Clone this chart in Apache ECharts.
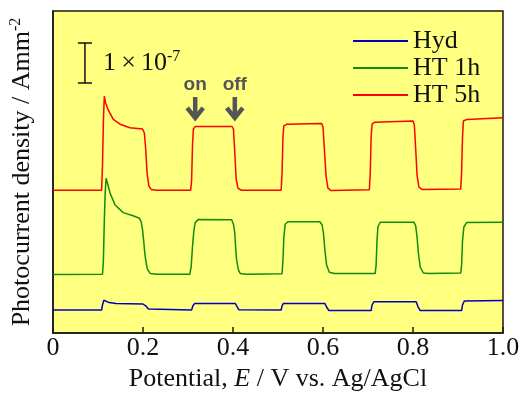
<!DOCTYPE html>
<html><head><meta charset="utf-8">
<script src="https://cdn.jsdelivr.net/npm/echarts@6/dist/echarts.min.js"></script>
<style>html,body{margin:0;padding:0;background:#fff}#c{width:522px;height:397px}</style>
</head><body><div id="c"></div>
<script>
// x tick labels
const xTickValues = [0, 0.2, 0.4, 0.6, 0.8, 1.0];
const xTickLabels = ['0', '0.2', '0.4', '0.6', '0.8', '1.0'];
const seriesNames = ['Hyd', 'HT 1h', 'HT 5h'];
// values in units of 1e-7 A/mm^2 (offset traces)
const hydData = [[0,0.575],[0.108,0.575],[0.110,0.7],[0.113,0.82],[0.117,0.8],[0.125,0.76],[0.14,0.74],[0.2,0.725],[0.206,0.68],[0.212,0.6],[0.216,0.575],[0.308,0.575],[0.311,0.68],[0.315,0.74],[0.405,0.74],[0.409,0.66],[0.413,0.58],[0.507,0.575],[0.509,0.68],[0.512,0.74],[0.604,0.74],[0.608,0.65],[0.613,0.56],[0.707,0.56],[0.709,0.7],[0.713,0.78],[0.807,0.78],[0.811,0.66],[0.816,0.56],[0.908,0.56],[0.91,0.7],[0.914,0.8],[1.0,0.81]];
const ht1Data = [[0,1.46],[0.11,1.47],[0.112,1.8],[0.114,2.8],[0.116,3.5],[0.118,3.87],[0.121,3.75],[0.127,3.49],[0.138,3.2],[0.156,3.01],[0.178,2.93],[0.192,2.87],[0.196,2.78],[0.199,2.58],[0.202,2.25],[0.204,1.99],[0.207,1.75],[0.21,1.59],[0.216,1.49],[0.23,1.47],[0.304,1.47],[0.307,1.65],[0.31,2.16],[0.313,2.55],[0.316,2.76],[0.323,2.84],[0.397,2.83],[0.401,2.72],[0.404,2.5],[0.406,2.1],[0.408,1.83],[0.412,1.58],[0.416,1.49],[0.43,1.47],[0.509,1.48],[0.511,1.8],[0.513,2.4],[0.516,2.72],[0.522,2.78],[0.593,2.78],[0.598,2.7],[0.601,2.5],[0.604,2.1],[0.608,1.7],[0.614,1.52],[0.625,1.49],[0.716,1.49],[0.718,1.7],[0.72,2.3],[0.722,2.65],[0.727,2.77],[0.802,2.77],[0.806,2.68],[0.809,2.4],[0.812,2.0],[0.816,1.65],[0.823,1.5],[0.835,1.49],[0.906,1.5],[0.908,1.7],[0.91,2.3],[0.913,2.65],[0.919,2.76],[1.0,2.77]];
const ht5Data = [[0,3.57],[0.108,3.57],[0.110,4.2],[0.112,5.3],[0.114,5.92],[0.117,5.75],[0.123,5.57],[0.134,5.34],[0.149,5.22],[0.171,5.13],[0.199,5.1],[0.203,5.0],[0.206,4.6],[0.209,4.0],[0.213,3.68],[0.218,3.59],[0.23,3.57],[0.306,3.57],[0.308,3.8],[0.310,4.7],[0.312,5.1],[0.316,5.16],[0.398,5.16],[0.401,5.1],[0.404,4.5],[0.407,3.85],[0.411,3.62],[0.418,3.57],[0.507,3.57],[0.509,4.0],[0.511,4.9],[0.513,5.18],[0.52,5.22],[0.597,5.24],[0.600,5.15],[0.603,4.6],[0.607,3.9],[0.611,3.62],[0.618,3.56],[0.703,3.58],[0.705,4.0],[0.707,4.9],[0.709,5.22],[0.715,5.27],[0.8,5.3],[0.803,5.2],[0.806,4.6],[0.809,3.95],[0.813,3.65],[0.82,3.59],[0.906,3.6],[0.908,4.0],[0.910,4.9],[0.912,5.3],[0.92,5.34],[1.0,5.38]];
// annotations
const scaleBar = [[0.071, 6.25, 7.25]]; // x, y bottom, y top (1e-7 span)
const arrows = [[0.316, 6.2, 5.9, 5.33, 'on'], [0.404, 6.2, 5.9, 5.33, 'off']]; // x, label y, shaft top, tip, text

const serif = '"Liberation Serif", "Times New Roman", serif';
const chart = echarts.init(document.getElementById('c'), null, {renderer: 'canvas'});
chart.setOption({
  animation: false,
  backgroundColor: '#ffffff',
  grid: {left: 53, top: 11, right: 19, bottom: 64, containLabel: false, outerBoundsMode: 'none', show: true, backgroundColor: '#ffff80', borderColor: '#1a1a1a', borderWidth: 1.5},
  legend: {
    data: seriesNames, orient: 'vertical', left: 348, top: 23, icon: 'rect', itemWidth: 55, itemHeight: 2, itemGap: 1,
    textStyle: {fontFamily: serif, fontSize: 26, color: '#111'}
  },
  xAxis: {
    type: 'value', min: 0, max: 1, interval: 0.2,
    axisLine: {show: true, lineStyle: {color: '#1a1a1a', width: 1.5}},
    axisTick: {show: true, inside: true, length: 6, lineStyle: {color: '#1a1a1a', width: 1.5}},
    splitLine: {show: false},
    axisLabel: {margin: 2, fontFamily: serif, fontSize: 26, color: '#111', hideOverlap: false,
      formatter: v => { const i = xTickValues.findIndex(t => Math.abs(t - v) < 1e-9); return i >= 0 ? xTickLabels[i] : ''; }},
    name: '{t|Potential, }{i|E}{t| / V vs. Ag/AgCl}', nameLocation: 'middle', nameGap: 28,
    nameTextStyle: {rich: {t: {fontFamily: serif, fontSize: 26, color: '#111'}, i: {fontFamily: serif, fontSize: 26, fontStyle: 'italic', color: '#111'}}}
  },
  yAxis: {
    type: 'value', min: 0, max: 8.05,
    axisLine: {show: true, lineStyle: {color: '#1a1a1a', width: 1.5}},
    axisTick: {show: false}, axisLabel: {show: false}, splitLine: {show: false},
    name: '{t|Photocurrent density / Amm}{s|-2}', nameLocation: 'middle', nameGap: 10, nameRotate: 90,
    nameTextStyle: {rich: {t: {fontFamily: serif, fontSize: 26, color: '#111', height: 30}, s: {fontFamily: serif, fontSize: 16, color: '#111', verticalAlign: 'top', height: 30, padding: [0,0,12,0]}}}
  },
  series: [
    {name: 'Hyd', type: 'line', data: hydData, showSymbol: false, symbol: 'none', lineStyle: {color: '#0000c0', width: 1.5}, itemStyle: {color: '#0000c0'}},
    {name: 'HT 1h', type: 'line', data: ht1Data, showSymbol: false, symbol: 'none', lineStyle: {color: '#108a10', width: 1.5}, itemStyle: {color: '#108a10'}},
    {name: 'HT 5h', type: 'line', data: ht5Data, showSymbol: false, symbol: 'none', lineStyle: {color: '#ff0000', width: 1.5}, itemStyle: {color: '#ff0000'}},
    {
      type: 'custom', data: scaleBar, silent: true,
      renderItem: (params, api) => {
        const b = api.coord([api.value(0), api.value(1)]);
        const t = api.coord([api.value(0), api.value(2)]);
        const cap = 7;
        const ls = {stroke: '#111', lineWidth: 1.5};
        return {type: 'group', children: [
          {type: 'line', shape: {x1: b[0], y1: b[1], x2: t[0], y2: t[1]}, style: ls},
          {type: 'line', shape: {x1: b[0]-cap, y1: b[1], x2: b[0]+cap, y2: b[1]}, style: ls},
          {type: 'line', shape: {x1: t[0]-cap, y1: t[1], x2: t[0]+cap, y2: t[1]}, style: ls},
          {type: 'text', x: b[0] + 18, y: (b[1] + t[1]) / 2, style: {
            text: '{n|1\u2009×\u200910}{s|-7}', verticalAlign: 'middle', align: 'left',
            rich: {n: {fontFamily: serif, fontSize: 26, fill: '#111', height: 30}, s: {fontFamily: serif, fontSize: 16, fill: '#111', verticalAlign: 'top', height: 30, padding: [0,0,12,0]}}
          }}
        ]};
      }
    },
    {
      type: 'custom', data: arrows, silent: true,
      renderItem: (params, api) => {
        const x = api.value(0);
        const lab = api.coord([x, api.value(1)]);
        const top = api.coord([x, api.value(2)]);
        const tip = api.coord([x, api.value(3)]);
        const st = {stroke: '#555', lineWidth: 4.5, lineCap: 'butt', lineJoin: 'miter', fill: 'none'};
        return {type: 'group', children: [
          {type: 'line', shape: {x1: top[0], y1: top[1], x2: tip[0], y2: tip[1] - 3}, style: st},
          {type: 'polyline', shape: {points: [[tip[0]-8, tip[1]-12], [tip[0], tip[1]-2], [tip[0]+8, tip[1]-12]]}, style: st},
          {type: 'text', x: lab[0], y: lab[1], style: {text: arrows[params.dataIndex][4], align: 'center', verticalAlign: 'middle', fontFamily: '"Liberation Sans", Arial, sans-serif', fontWeight: 'bold', fontSize: 19, fill: '#555'}}
        ]};
      }
    }
  ]
});
</script></body></html>
